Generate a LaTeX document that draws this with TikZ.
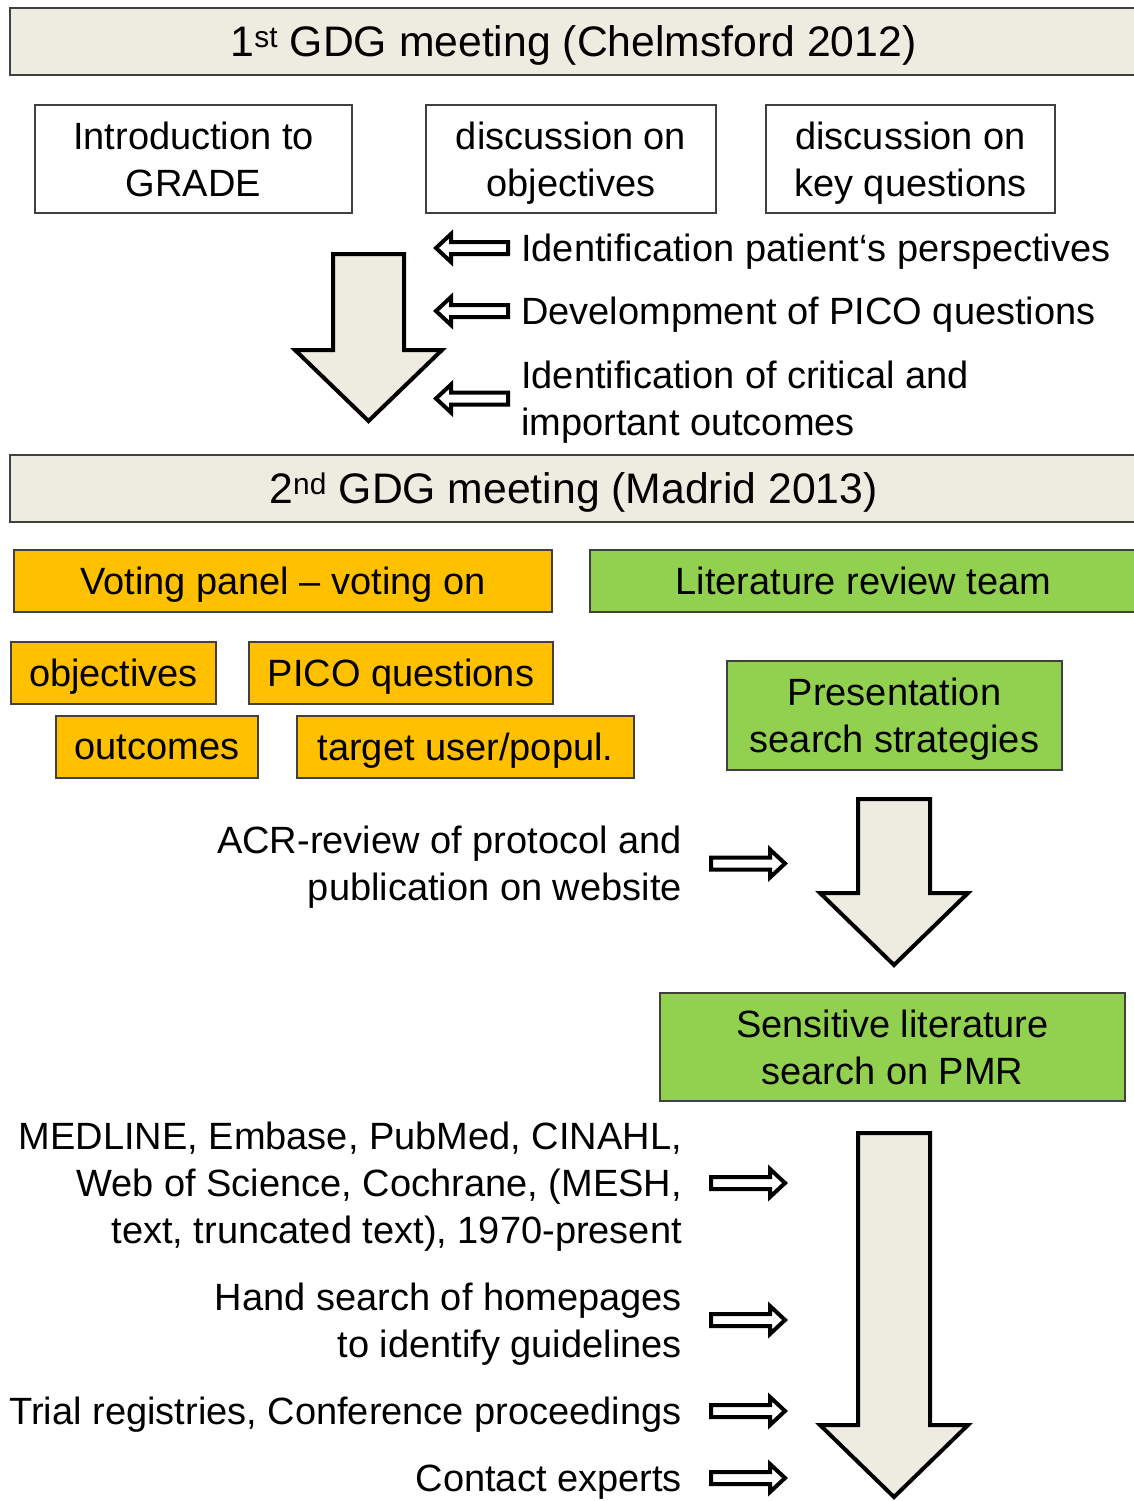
\documentclass[tikz,border=0pt]{standalone}
\usepackage{fontspec}
\setmainfont{Liberation Sans}
\definecolor{barfill}{HTML}{EEECE1}
\definecolor{voteorange}{HTML}{FFC000}
\definecolor{litgreen}{HTML}{92D050}
\definecolor{boxline}{HTML}{404040}
\tikzset{
	every node/.style={text depth=0pt},
	bar/.style={draw=boxline, line width=2pt, fill=barfill, minimum height=67pt, minimum width=1127pt, font=\fontsize{42.7}{50}\selectfont},
	plainbox/.style={draw=boxline, line width=1.6pt, minimum height=108pt, align=center},
	votebox/.style={draw=boxline, line width=1.6pt, fill=voteorange, minimum height=62pt},
	litbox/.style={draw=boxline, line width=1.6pt, fill=litgreen, align=center},
	lefttext/.style={anchor=west, inner sep=0pt, align=left},
	righttext/.style={anchor=east, inner sep=0pt, align=right},
	bigarrow/.style={draw=black, line width=4pt, fill=barfill, line join=miter},
	smallarrow/.style={draw=black, line width=4pt, fill=white, line join=miter}
}
% block arrows beside the texts
\newcommand{\rightblock}[1]{\draw[smallarrow] (#1) ++(0,-6) -- ++(59,0) -- ++(0,-8) -- ++(15,14) -- ++(-15,14) -- ++(0,-8) -- ++(-59,0) -- cycle;}
\newcommand{\leftblock}[1]{\draw[smallarrow] (#1) ++(0,-6) -- ++(-57,0) -- ++(0,-8) -- ++(-15,14) -- ++(15,14) -- ++(0,-8) -- ++(57,0) -- cycle;}
\begin{document}
\begin{tikzpicture}[x=1pt, y=-1pt, font=\fontsize{38}{47}\selectfont]
	\useasboundingbox (0,0) rectangle (1133,1501);
	%first meeting
	\node[bar] (meetA) at (573.5,41.5) {1\textsuperscript{st} GDG meeting (Chelmsford 2012)};
	\node[plainbox, minimum width=317pt] (grade) at (193.5,159) {Introduction to\\GRADE};
	\node[plainbox, minimum width=290pt] (objdisc) at (571,159) {discussion on\\objectives};
	\node[plainbox, minimum width=289pt] (keyq) at (910.5,159) {discussion on\\key questions};
	%outcomes of first meeting
	\node[lefttext] (persp) at (521,248) {Identification patient‘s perspectives};
	\node[lefttext] (pico) at (521,311) {Develompment of PICO questions};
	\node[lefttext] (crit) at (521,398.5) {Identification of critical and\\important outcomes};
	\coordinate (perspA) at ([xshift=-13pt]persp.west);
	\coordinate (picoA) at ([xshift=-13pt]pico.west);
	\coordinate (critA) at ([xshift=-13pt]crit.west);
	\leftblock{perspA}
	\leftblock{picoA}
	\leftblock{critA}
	\draw[bigarrow] (333,254) -- (404,254) -- (404,350) -- (442,350) -- (368.5,421)
		-- (295,350) -- (333,350) -- cycle;
	%second meeting
	\node[bar] (meetB) at (573.5,488.5) {2\textsuperscript{nd} GDG meeting (Madrid 2013)};
	\node[votebox, minimum width=538pt] (panel) at (283,581) {Voting panel -- voting on};
	\node[litbox, minimum width=547pt, minimum height=62pt] (team) at (863.5,581) {Literature review team};
	\node[votebox, minimum width=205pt] (vobj) at (113.5,673) {objectives};
	\node[votebox, minimum width=304pt] (vpico) at (401,673) {PICO questions};
	\node[votebox, minimum width=202pt] (vout) at (157,747) {outcomes};
	\node[votebox, minimum width=337pt] (vtarget) at (465.5,747) {target user/popul.};
	\node[litbox, minimum width=335pt, minimum height=109pt] (strat) at (894.5,715.5) {Presentation\\search strategies};
	\node[righttext] (acr) at (682,863.5) {ACR-review of protocol and\\publication on website};
	\coordinate (acrA) at ([xshift=29pt]acr.east);
	\rightblock{acrA}
	\draw[bigarrow] (858,799) -- (930,799) -- (930,893) -- (968,893) -- (894,965)
		-- (820,893) -- (858,893) -- cycle;
	%literature search
	\node[litbox, minimum width=465pt, minimum height=108pt] (pmr) at (892.5,1047) {Sensitive literature\\search on PMR};
	\node[righttext] (dbs) at (682,1183) {MEDLINE, Embase, PubMed, CINAHL,\\Web of Science, Cochrane, (MESH,\\text, truncated text), 1970-present};
	\node[righttext] (hand) at (682,1320) {Hand search of homepages\\to identify guidelines};
	\node[righttext] (trial) at (682,1411) {Trial registries, Conference proceedings};
	\node[righttext] (experts) at (682,1478) {Contact experts};
	\foreach \src in {dbs,hand,trial,experts}{
		\coordinate (\src A) at ([xshift=29pt]\src.east);
		\rightblock{\src A}
	}
	\draw[bigarrow] (858,1133) -- (930,1133) -- (930,1425) -- (968,1425) -- (894,1497)
		-- (820,1425) -- (858,1425) -- cycle;
\end{tikzpicture}
\end{document}
